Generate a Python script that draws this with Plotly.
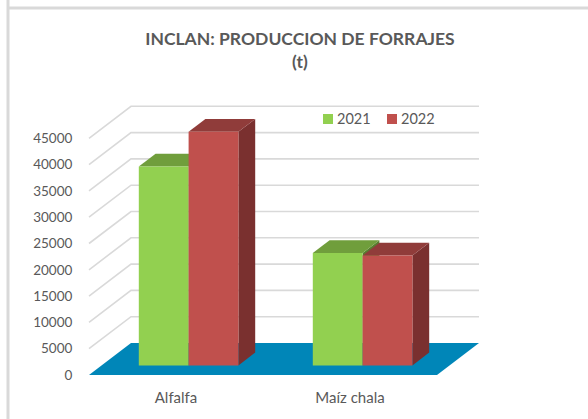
import plotly.graph_objects as go

categories = ["Alfalfa", "Maíz chala"]
series_names = ["2021", "2022"]
values_2021 = [37800, 21350]
values_2022 = [44400, 20900]
y_ticks = [0, 5000, 10000, 15000, 20000, 25000, 30000, 35000, 40000, 45000]

W, H = 588, 419
PX_X0, PX_CAT = 89.0, 174.0     # pixel of category-axis start, pixels per category
PX_Y0, PX_UNIT = 375.0, 26.3 / 5000
L, R, T, B = 78, 490, 100, 375  # plot area in page pixels

DEPTH_X = 42.0 / PX_CAT         # oblique depth expressed in axis units
DEPTH_Y = 32.0 / PX_UNIT
BAR_W = 49.8 / PX_CAT
BAR_D0, BAR_D1 = 0.30, 0.70     # bar front/back depth fraction

C_GRID = "#D9D9D9"
C_TEXT = "#595959"
C_FLOOR = "#0086B8"
FONT = "Lato, Carlito, Calibri, sans-serif"
STYLES = [
    dict(front="#92D050", top="#709E3C", side="#587E30"),
    dict(front="#C0504D", top="#903C3A", side="#7A302F"),
]

x_range = [(L - PX_X0) / PX_CAT, (R - PX_X0) / PX_CAT]
y_range = [0, (B - T) / PX_UNIT]


def proj(u, v, d):
    return u + d * DEPTH_X, v + d * DEPTH_Y


def poly(points, color, z):
    xs, ys = zip(*[proj(*p) for p in points + points[:1]])
    return go.Scatter(x=xs, y=ys, mode="lines", fill="toself", fillcolor=color,
                      line=dict(width=0, color=color), showlegend=False,
                      hoverinfo="skip", zorder=z)


fig = go.Figure()

n_cat = len(categories)
# back wall + left wall gridlines
for v in y_ticks[1:]:
    pts = [proj(0, v, 0), proj(0, v, 1), proj(n_cat, v, 1)]
    fig.add_trace(go.Scatter(x=[p[0] for p in pts], y=[p[1] for p in pts], mode="lines",
                             line=dict(color=C_GRID, width=1.6), showlegend=False,
                             hoverinfo="skip", zorder=0))
# floor
fig.add_trace(poly([(0, 0, 0), (n_cat, 0, 0), (n_cat, 0, 1), (0, 0, 1)], C_FLOOR, 1))

all_values = [values_2021, values_2022]
for s, (name, vals, st) in enumerate(zip(series_names, all_values, STYLES)):
    z = 2 + 2 * s
    centers = []
    for c, v in enumerate(vals):
        left = c + 0.5 + (s - 1) * BAR_W
        right = left + BAR_W
        centers.append(proj(left + BAR_W / 2, 0, BAR_D0)[0])
        fig.add_trace(poly([(right, 0, BAR_D0), (right, 0, BAR_D1), (right, v, BAR_D1), (right, v, BAR_D0)],
                           st["side"], z))
        fig.add_trace(poly([(left, v, BAR_D0), (right, v, BAR_D0), (right, v, BAR_D1), (left, v, BAR_D1)],
                           st["top"], z))
    fig.add_trace(go.Bar(x=centers, y=vals, base=BAR_D0 * DEPTH_Y, width=BAR_W, name=name,
                         showlegend=False,
                         marker=dict(color=st["front"], line=dict(width=0)), zorder=z + 1))


def px_x(p):
    return (p - L) / (R - L)


def px_y(p):
    return (B - p) / (B - T)


frame = [(7, 8, W, 8), (8, 0, 8, H)]
shapes = [dict(type="line", xref="paper", yref="paper", x0=px_x(a), y0=px_y(b), x1=px_x(c), y1=px_y(d),
               line=dict(color=C_GRID, width=3), layer="below") for a, b, c, d in frame]

# legend key: swatch + label for each series
annotations = []
for name, st, sx in zip(series_names, STYLES, [323, 387]):
    shapes.append(dict(type="rect", xref="paper", yref="paper", x0=px_x(sx), x1=px_x(sx + 10),
                       y0=px_y(124), y1=px_y(114), fillcolor=st["front"], line=dict(width=0)))
    annotations.append(dict(text=name, xref="paper", yref="paper", x=px_x(sx + 12), y=px_y(118),
                            xanchor="left", yanchor="middle", showarrow=False,
                            font=dict(family=FONT, size=14.5, color=C_TEXT)))

fig.update_layout(
    width=W, height=H, autosize=False,
    margin=dict(l=L, r=W - R, t=T, b=H - B, pad=0),
    paper_bgcolor="white", plot_bgcolor="white",
    barmode="overlay", shapes=shapes, annotations=annotations, showlegend=False,
    font=dict(family=FONT, color=C_TEXT, size=14),
    title=dict(text="<b>INCLAN: PRODUCCION DE FORRAJES<br>(t)</b>", x=300 / W, xanchor="center",
               xref="container", yref="container", y=1 - 45 / H, yanchor="top",
               pad=dict(t=0, b=0, l=0, r=0),
               font=dict(family=FONT, size=17.5, color=C_TEXT)),
    xaxis=dict(range=x_range, tickmode="array", tickvals=[0.5, 1.5], ticktext=categories,
               showgrid=False, zeroline=False, showline=False, ticks="outside", ticklen=9,
               tickcolor="rgba(0,0,0,0)", tickfont=dict(size=15, color=C_TEXT), automargin=False),
    yaxis=dict(range=y_range, tickmode="array", tickvals=y_ticks, ticktext=[str(t) for t in y_ticks],
               showgrid=False, zeroline=False, showline=False, ticks="outside", ticklen=2,
               tickcolor="rgba(0,0,0,0)", tickfont=dict(size=13.5, color=C_TEXT), automargin=False),
)

fig.write_html("out.html", config=dict(displayModeBar=False),
               post_script="document.body.style.margin='0';")
